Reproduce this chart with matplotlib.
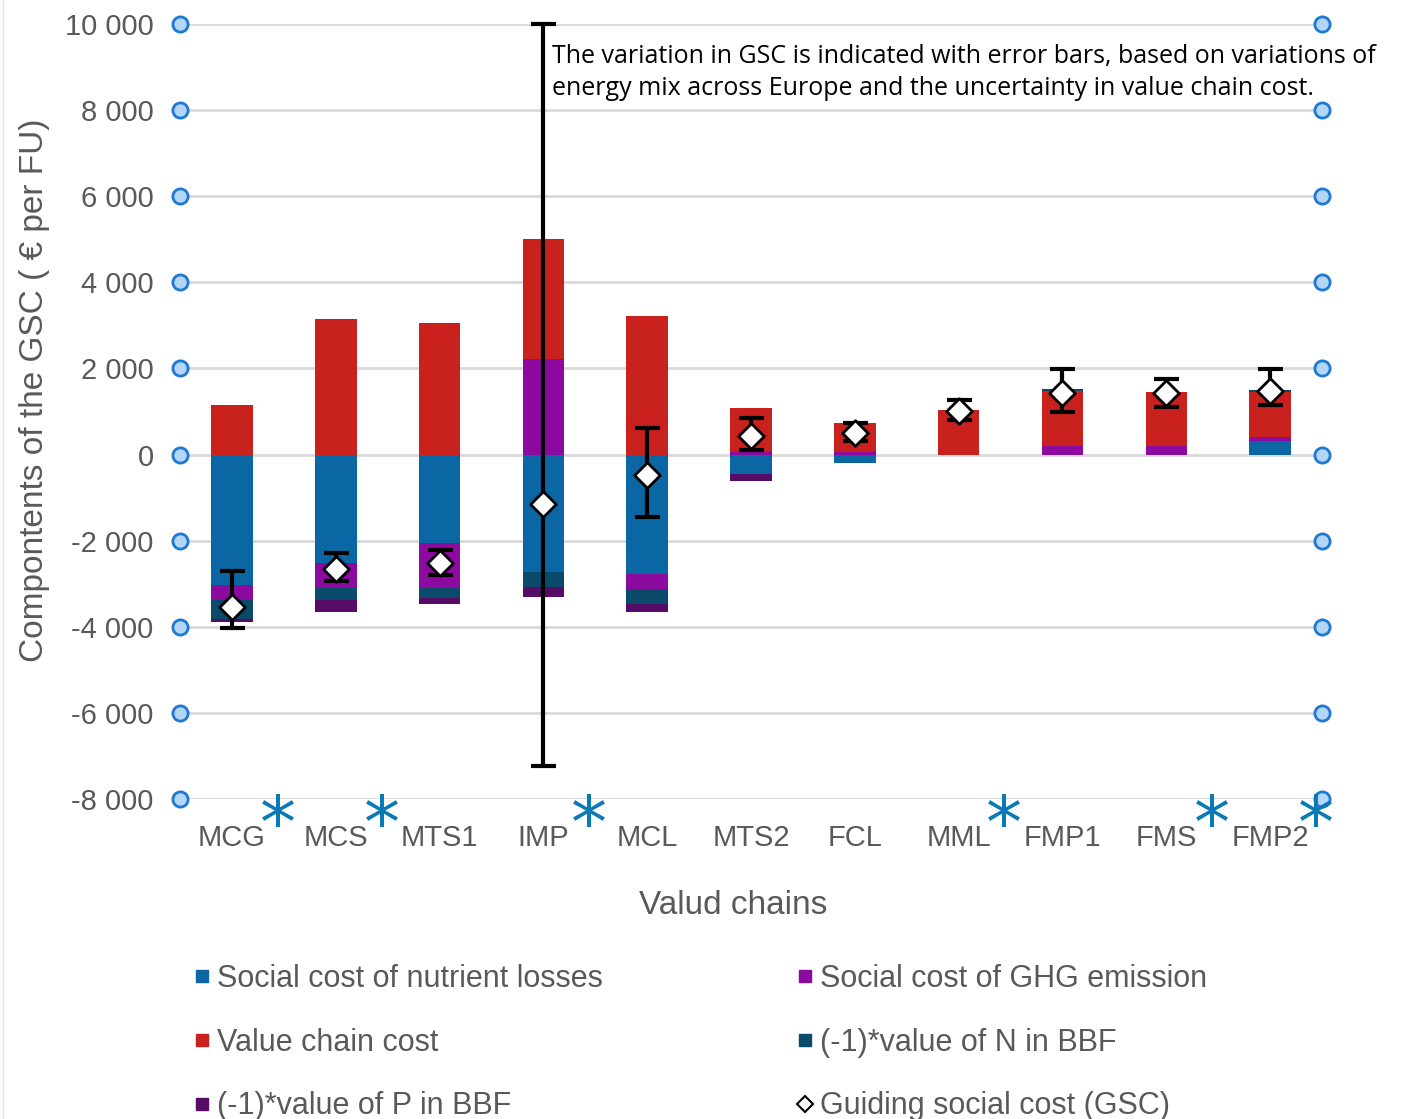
import numpy as np
import matplotlib.pyplot as plt
from matplotlib.lines import Line2D

# value chains
cats = ['MCG', 'MCS', 'MTS1', 'IMP', 'MCL', 'MTS2', 'FCL', 'MML', 'FMP1', 'FMS', 'FMP2']

# stacked components (EUR per FU)
nutrient = [-3020, -2530, -2065, -2720, -2785, -460, -195, 0, 0, 0, 310]
ghg = [-360, -560, -1025, 2220, -345, 60, 60, 0, 190, 190, 100]
vcc = [1160, 3155, 3060, 2790, 3225, 1020, 675, 1030, 1280, 1255, 1035]
n_bbf = [-450, -290, -240, -360, -350, 0, 0, 0, 40, 0, 45]
p_bbf = [-70, -280, -150, -220, -180, -160, 0, 0, 0, 0, 0]

# guiding social cost and its range
gsc = [-3540, -2650, -2510, -1145, -487, 425, 500, 1005, 1430, 1430, 1470]
gsc_hi = [-2710, -2280, -2220, 10000, 620, 850, 740, 1275, 1995, 1755, 1995]
gsc_lo = [-4020, -2940, -2790, -7240, -1455, 100, 310, 790, 980, 1105, 1160]

starred = ['MCG', 'MCS', 'IMP', 'MML', 'FMS', 'FMP2']
yticks = [10000, 8000, 6000, 4000, 2000, 0, -2000, -4000, -6000, -8000]

series = [
    ('Social cost of nutrient losses', nutrient, '#0a67a3'),
    ('Social cost of GHG emission', ghg, '#8c0aa0'),
    ('Value chain cost', vcc, '#c8211e'),
    ('(-1)*value of N in BBF', n_bbf, '#0c4a6c'),
    ('(-1)*value of P in BBF', p_bbf, '#560c66'),
]

grey = '#595959'
plt.rcParams['font.family'] = ['Liberation Sans', 'DejaVu Sans']

fig = plt.figure(figsize=(14.1, 11.19), dpi=100)
ax = fig.add_axes([0.1277, 0.286, 0.8099, 0.6926])

x = np.arange(len(cats))
pos_base = np.zeros(len(cats))
neg_base = np.zeros(len(cats))
handles = {}
for name, vals, col in series:
    v = np.array(vals, dtype=float)
    bottom = np.where(v >= 0, pos_base, neg_base)
    ax.bar(x, v, 0.4, bottom=bottom, color=col, edgecolor='none', zorder=3)
    handles[name] = Line2D([], [], marker='s', ls='none', color=col, markersize=9)
    pos_base += np.where(v > 0, v, 0)
    neg_base += np.where(v < 0, v, 0)

g = np.array(gsc, dtype=float)
yerr = [g - np.array(gsc_lo), np.array(gsc_hi) - g]
ax.errorbar(x, g, yerr=yerr, fmt='none', ecolor='black', elinewidth=3,
            capsize=9, capthick=3, zorder=4, clip_on=False)
ax.scatter(x, g, marker='D', s=170, facecolor='white', edgecolor='black',
           linewidth=2, zorder=5)
handles['Guiding social cost (GSC)'] = Line2D([], [], marker='D', ls='none',
                                              markerfacecolor='white',
                                              markeredgecolor='black',
                                              markersize=8, markeredgewidth=1.5)

ax.set_xlim(-0.5, len(cats) - 0.5)
ax.set_ylim(-8000, 10000)
ax.set_yticks(yticks)
ax.set_yticklabels([f'{t:,}'.replace(',', ' ') for t in yticks])
ax.set_xticks(x)
ax.set_xticklabels(cats)
ax.tick_params(length=0, labelsize=21, labelcolor=grey)
ax.tick_params(axis='y', pad=19)
ax.tick_params(axis='x', pad=18)
ax.yaxis.grid(True, color='#d9d9d9', lw=2, zorder=0)
for s in ax.spines.values():
    s.set_visible(False)

# circle handles on the gridline ends
for xe in (-0.5, len(cats) - 0.5):
    ax.scatter([xe] * len(yticks), yticks, s=120, facecolor='#b3d5f7',
               edgecolor='#1f78d1', linewidth=2, zorder=6, clip_on=False)

# asterisks marking chains
for c in starred:
    i = cats.index(c)
    ax.text(i + 0.44, -7850, '*', fontsize=52, color='#0a79b8', ha='center',
            va='top', family='DejaVu Sans', zorder=7, clip_on=False)

ax.set_ylabel('Compontents of the GSC ( € per FU)', fontsize=24, color=grey)
ax.yaxis.set_label_coords(-0.114, 0.528)
ax.set_xlabel('Valud chains', fontsize=24, color=grey)
ax.xaxis.set_label_coords(0.484, -0.118)

ax.text(3.08, 8875, 'The variation in GSC is indicated with error bars, based on variations of\n'
        'energy mix across Europe and the uncertainty in value chain cost.',
        fontsize=18, family=['Open Sans', 'DejaVu Sans'], color='black',
        ha='left', va='center', linespacing=1.35, zorder=8)

order = ['Social cost of nutrient losses', 'Value chain cost', '(-1)*value of P in BBF',
         'Social cost of GHG emission', '(-1)*value of N in BBF', 'Guiding social cost (GSC)']
leg = fig.legend([handles[k] for k in order], order, ncol=2, loc='upper left',
                 bbox_to_anchor=(0.1174, 0.163), frameon=False, fontsize=22,
                 handlelength=0.6, handletextpad=0.2, columnspacing=6.3,
                 labelspacing=1.1)
for t in leg.get_texts():
    t.set_color(grey)

fig.add_artist(Line2D([0.002, 0.002], [0, 1], color='#e6e6e6', lw=1))

fig.savefig('out.png', dpi=100, facecolor='white')
